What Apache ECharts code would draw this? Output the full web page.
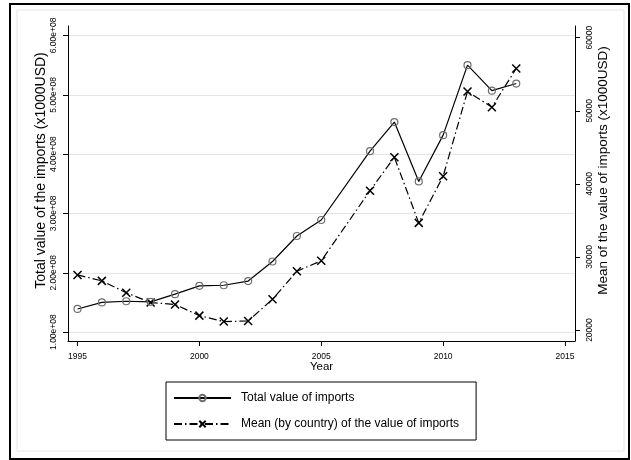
<!DOCTYPE html>
<html>
<head>
<meta charset="utf-8">
<script src="https://cdn.jsdelivr.net/npm/echarts@6/dist/echarts.min.js"></script>
<style>
  html, body { margin: 0; padding: 0; background: #fff; }
  #chart { width: 631px; height: 460px; }
</style>
</head>
<body>
<div id="chart"></div>
<script>
// 2006 is missing in the source data, the lines just join 2005 to 2007
const years = [1995, 1996, 1997, 1998, 1999, 2000, 2001, 2002, 2003, 2004, 2005,
  2007, 2008, 2009, 2010, 2011, 2012, 2013]
const totalImports = [1.39e8, 1.50e8, 1.52e8, 1.51e8, 1.64e8, 1.78e8, 1.79e8, 1.86e8, 2.19e8, 2.62e8, 2.89e8,
  4.05e8, 4.54e8, 3.54e8, 4.32e8, 5.50e8, 5.07e8, 5.19e8]
const meanImports = [27540, 26730, 25110, 23770, 23500, 21970, 21160, 21240, 24210, 28040, 29470,
  39060, 43640, 34660, 41040, 52650, 50490, 55790]

const yearTicks = [1995, 2000, 2005, 2010, 2015]
const leftTicks = [1e8, 2e8, 3e8, 4e8, 5e8, 6e8]
const rightTicks = [20000, 30000, 40000, 50000, 60000]

const FONT = '"Liberation Sans", Arial, sans-serif'

const chart = echarts.init(document.getElementById('chart'))

const axisLine = { show: true, lineStyle: { color: '#000', width: 1 } }
const axisTick = { show: true, length: 5, lineStyle: { color: '#000', width: 1 } }

const option = {
  backgroundColor: '#fff',
  animation: false,
  textStyle: { fontFamily: FONT },
  graphic: [
    { type: 'rect', shape: { x: 17, y: 10, width: 607, height: 441 }, style: { fill: 'none', stroke: '#e6e6e6', lineWidth: 1 }, silent: true, z: -1 },
    { type: 'rect', shape: { x: 10, y: 4, width: 619, height: 455 }, style: { fill: 'none', stroke: '#000', lineWidth: 2 }, silent: true }
  ],
  grid: { left: 68, right: 56, top: 26, bottom: 119, containLabel: false },
  legend: {
    orient: 'vertical',
    left: 166,
    top: 382,
    padding: [10, 17, 10, 7],
    itemGap: 14,
    itemWidth: 57,
    itemHeight: 8,
    borderColor: '#000',
    borderWidth: 1,
    borderRadius: 0,
    textStyle: { color: '#000', fontSize: 12, fontFamily: FONT, padding: [0, 0, 0, 5] },
    data: ['Total value of imports', 'Mean (by country) of the value of imports']
  },
  xAxis: {
    type: 'value',
    min: 1994.61,
    max: 2015.41,
    name: 'Year',
    nameLocation: 'middle',
    nameGap: 20,
    nameMoveOverlap: false,
    nameTextStyle: { color: '#000', fontSize: 11.5, fontFamily: FONT },
    axisLine: axisLine,
    axisTick: Object.assign({ customValues: yearTicks }, axisTick),
    axisLabel: { customValues: yearTicks, color: '#000', fontSize: 8.5, margin: 11, fontFamily: FONT, formatter: v => String(v) },
    splitLine: { show: false }
  },
  yAxis: [
    {
      type: 'value',
      position: 'left',
      min: 0.85e8,
      max: 6.16e8,
      name: 'Total value of the imports (x1000USD)',
      nameLocation: 'middle',
      nameRotate: 90,
      nameGap: 20,
      nameMoveOverlap: false,
      nameTextStyle: { color: '#000', fontSize: 14, fontFamily: FONT, padding: [0, 0, 0, 26] },
      axisLine: axisLine,
      axisTick: Object.assign({ customValues: leftTicks }, axisTick),
      axisLabel: {
        customValues: leftTicks,
        rotate: 90,
        color: '#000',
        fontSize: 8.5,
        margin: 10,
        fontFamily: FONT,
        formatter: v => (v / 1e8).toFixed(2) + 'e+08'
      },
      splitLine: { show: true, lineStyle: { color: '#e4e4e4', width: 1 } }
    },
    {
      type: 'value',
      position: 'right',
      min: 18500,
      max: 61600,
      name: 'Mean of the value of imports (x1000USD)',
      nameLocation: 'middle',
      nameRotate: 90,
      nameGap: 21,
      nameMoveOverlap: false,
      nameTextStyle: { color: '#000', fontSize: 13.5, fontFamily: FONT, padding: [0, 0, 0, 26] },
      axisLine: axisLine,
      axisTick: Object.assign({ customValues: rightTicks }, axisTick),
      axisLabel: {
        customValues: rightTicks,
        rotate: 90,
        color: '#000',
        fontSize: 8.5,
        margin: 10,
        fontFamily: FONT,
        formatter: v => String(v)
      },
      splitLine: { show: false }
    }
  ],
  series: [
    {
      name: 'Total value of imports',
      type: 'line',
      yAxisIndex: 0,
      data: years.map((y, i) => [y, totalImports[i]]),
      symbol: 'circle',
      symbolSize: 7,
      itemStyle: { color: 'rgba(255,255,255,0)', borderColor: '#6e6e6e', borderWidth: 1.2 },
      lineStyle: { color: '#000', width: 1.2 },
      z: 3
    },
    {
      name: 'Mean (by country) of the value of imports',
      type: 'line',
      yAxisIndex: 1,
      data: years.map((y, i) => [y, meanImports[i]]),
      symbol: 'path://M0,0L10,10M10,0L0,10',
      symbolSize: 8,
      itemStyle: { color: '#000', borderColor: '#000', borderWidth: 1.5 },
      lineStyle: { color: '#000', width: 1.2, type: [8, 3, 1.5, 3] },
      z: 2
    }
  ]
}

chart.setOption(option)
</script>
</body>
</html>
